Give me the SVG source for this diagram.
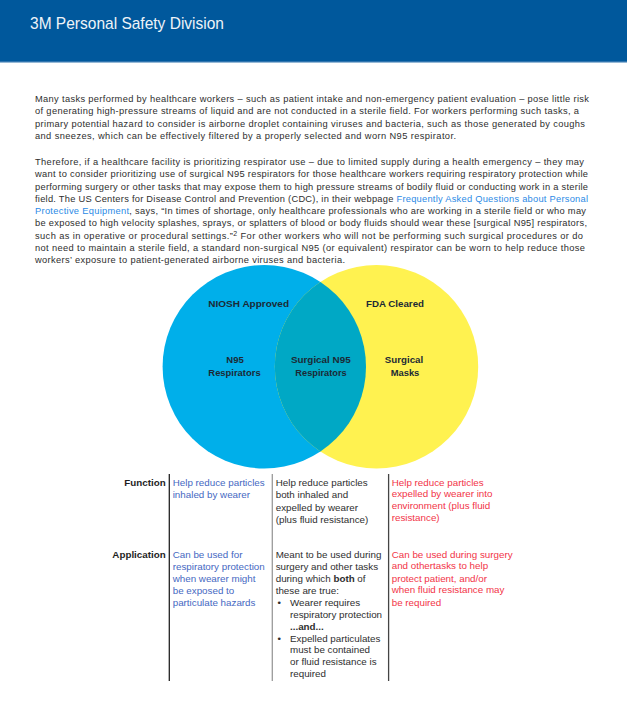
<svg xmlns="http://www.w3.org/2000/svg" width="627" height="711" viewBox="0 0 627 711">
<style>
.body{font-family:"Liberation Sans",Arial,sans-serif;font-size:9.3px;fill:#2e2e2e}
.link{fill:#2b8ae6}
.vt{font-family:"Liberation Sans",Arial,sans-serif;font-size:9.5px;font-weight:bold;fill:#1c2a35;text-anchor:middle}
.tb{font-family:"Liberation Sans",Arial,sans-serif;font-size:9.8px}
.lab{font-weight:bold;fill:#1e1e1e;text-anchor:end}
.c1{fill:#4568c2}
.c2{fill:#2e2e2e}
.c3{fill:#f23447}
.b{font-weight:bold}
</style>
<defs>
<clipPath id="blueClip"><circle cx="264.3" cy="366.7" r="101.7"/></clipPath>
</defs>
<rect width="627" height="711" fill="#ffffff"/>
<g id="header">
<rect x="0" y="0" width="627" height="61" fill="#00589c"/>
<rect x="0" y="61" width="627" height="1.5" fill="#2f74ae"/>
<text x="30" y="29.3" font-family="'Liberation Sans',Arial,sans-serif" font-size="17" fill="#eef3f8" textLength="194" lengthAdjust="spacingAndGlyphs">3M Personal Safety Division</text>
</g>
<g id="intro-text" class="body">
<text x="35" y="102" textLength="554" lengthAdjust="spacing">Many tasks performed by healthcare workers – such as patient intake and non-emergency patient evaluation – pose little risk</text>
<text x="35" y="114.3" textLength="544" lengthAdjust="spacing">of generating high-pressure streams of liquid and are not conducted in a sterile field. For workers performing such tasks, a</text>
<text x="35" y="126.5" textLength="550" lengthAdjust="spacing">primary potential hazard to consider is airborne droplet containing viruses and bacteria, such as those generated by coughs</text>
<text x="35" y="138.8" textLength="421" lengthAdjust="spacing">and sneezes, which can be effectively filtered by a properly selected and worn N95 respirator.</text>
<text x="35" y="165" textLength="549" lengthAdjust="spacing">Therefore, if a healthcare facility is prioritizing respirator use – due to limited supply during a health emergency – they may</text>
<text x="35" y="177.3" textLength="553" lengthAdjust="spacing">want to consider prioritizing use of surgical N95 respirators for those healthcare workers requiring respiratory protection while</text>
<text x="35" y="189.5" textLength="553" lengthAdjust="spacing">performing surgery or other tasks that may expose them to high pressure streams of bodily fluid or conducting work in a sterile</text>
<text x="35" y="201.8" textLength="553" lengthAdjust="spacing">field. The US Centers for Disease Control and Prevention (CDC), in their webpage <tspan class="link">Frequently Asked Questions about Personal</tspan></text>
<text x="35" y="214" textLength="551" lengthAdjust="spacing"><tspan class="link">Protective Equipment</tspan>, says, “In times of shortage, only healthcare professionals who are working in a sterile field or who may</text>
<text x="35" y="226.3" textLength="552" lengthAdjust="spacing">be exposed to high velocity splashes, sprays, or splatters of blood or body fluids should wear these [surgical N95] respirators,</text>
<text x="35" y="238.5" textLength="548" lengthAdjust="spacing">such as in operative or procedural settings.”<tspan dy="-3" font-size="7">2</tspan><tspan dy="3"> For other workers who will not be performing such surgical procedures or do</tspan></text>
<text x="35" y="250.8" textLength="550" lengthAdjust="spacing">not need to maintain a sterile field, a standard non-surgical N95 (or equivalent) respirator can be worn to help reduce those</text>
<text x="35" y="263" textLength="310" lengthAdjust="spacing">workers’ exposure to patient-generated airborne viruses and bacteria.</text>
</g>
<g id="niosh-circle">
<circle cx="264.3" cy="366.7" r="101.7" fill="#00afea"/>
</g>
<g id="fda-circle">
<circle cx="376.5" cy="366.7" r="101.7" fill="#fff250"/>
</g>
<g id="overlap">
<circle cx="376.5" cy="366.7" r="101.7" fill="#00a8c5" clip-path="url(#blueClip)"/>
</g>
<g id="venn-labels">
<text class="vt" x="248.7" y="306.5" textLength="80.7" lengthAdjust="spacingAndGlyphs">NIOSH Approved</text>
<text class="vt" x="395" y="306.5" textLength="58" lengthAdjust="spacingAndGlyphs">FDA Cleared</text>
<text class="vt" x="235" y="363.2">N95</text>
<text class="vt" x="234.5" y="375.8" textLength="52.3" lengthAdjust="spacingAndGlyphs">Respirators</text>
<text class="vt" x="320.8" y="363.2" textLength="59.7" lengthAdjust="spacingAndGlyphs">Surgical N95</text>
<text class="vt" x="321" y="375.8" textLength="51.3" lengthAdjust="spacingAndGlyphs">Respirators</text>
<text class="vt" x="404" y="363.2" textLength="38.3" lengthAdjust="spacingAndGlyphs">Surgical</text>
<text class="vt" x="405" y="375.8" textLength="28.7" lengthAdjust="spacingAndGlyphs">Masks</text>
</g>
<g id="table-rules">
<line x1="169.3" y1="474" x2="169.3" y2="681" stroke="#222" stroke-width="1.3"/>
<line x1="272.3" y1="474" x2="272.3" y2="681" stroke="#9a9a9a" stroke-width="1.3"/>
<line x1="388.6" y1="474" x2="388.6" y2="681" stroke="#444" stroke-width="1.3"/>
</g>
<g id="row-labels" class="tb lab">
<text x="165.7" y="486">Function</text>
<text x="165.7" y="558.2">Application</text>
</g>
<g id="col-n95" class="tb c1">
<text x="172.7" y="486">Help reduce particles</text>
<text x="172.7" y="498.3">inhaled by wearer</text>
<text x="172.7" y="558.2">Can be used for</text>
<text x="172.7" y="569.9">respiratory protection</text>
<text x="172.7" y="581.5">when wearer might</text>
<text x="172.7" y="593.9">be exposed to</text>
<text x="172.7" y="605.9">particulate hazards</text>
</g>
<g id="col-surgical-n95" class="tb c2">
<text x="275.7" y="486">Help reduce particles</text>
<text x="275.7" y="498.3">both inhaled and</text>
<text x="275.7" y="510.6">expelled by wearer</text>
<text x="275.7" y="522.9">(plus fluid resistance)</text>
<text x="275.7" y="558.2">Meant to be used during</text>
<text x="275.7" y="569.9">surgery and other tasks</text>
<text x="275.7" y="581.5">during which <tspan class="b">both</tspan> of</text>
<text x="275.7" y="593.9">these are true:</text>
<text x="277.5" y="605.9">•</text>
<text x="290" y="605.9">Wearer requires</text>
<text x="290" y="617.5">respiratory protection</text>
<text x="290" y="629.8" class="b">...and...</text>
<text x="277.5" y="641.5">•</text>
<text x="290" y="641.5">Expelled particulates</text>
<text x="290" y="653.2">must be contained</text>
<text x="290" y="665.2">or fluid resistance is</text>
<text x="290" y="677.2">required</text>
</g>
<g id="col-surgical-masks" class="tb c3">
<text x="391.7" y="485.5">Help reduce particles</text>
<text x="391.7" y="497.3">expelled by wearer into</text>
<text x="391.7" y="509">environment (plus fluid</text>
<text x="391.7" y="520.8">resistance)</text>
<text x="391.7" y="558.2">Can be used during surgery</text>
<text x="391.7" y="569.4">and othertasks to help</text>
<text x="391.7" y="581.5">protect patient, and/or</text>
<text x="391.7" y="593.2">when fluid resistance may</text>
<text x="391.7" y="605.5">be required</text>
</g>
</svg>
